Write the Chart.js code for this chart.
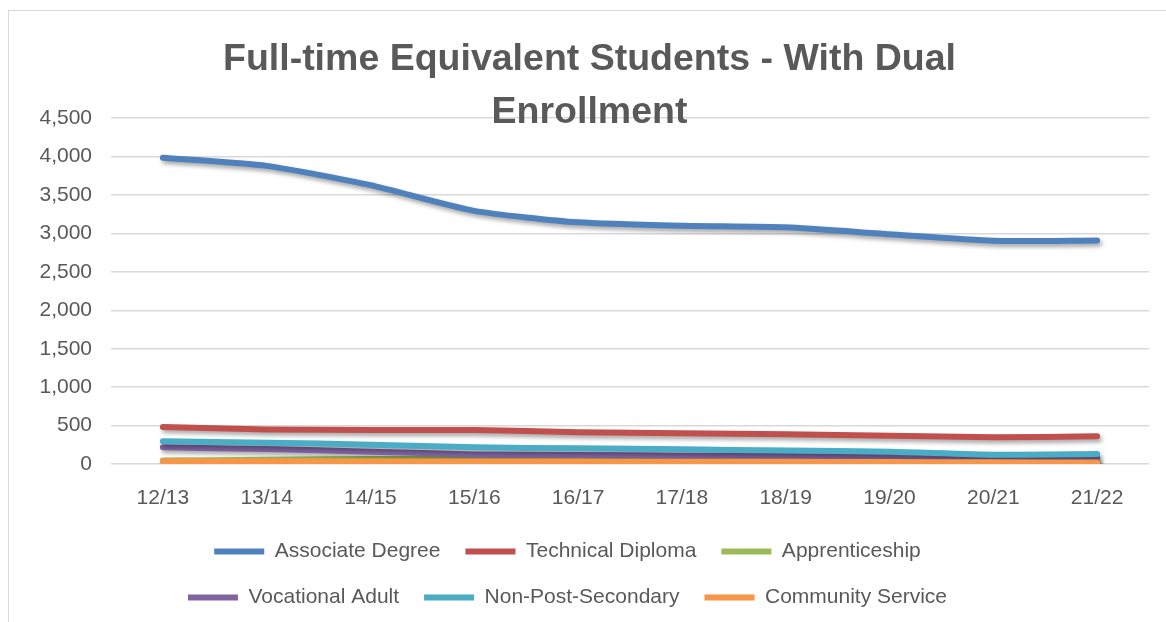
<!DOCTYPE html>
<html>
<head>
<meta charset="utf-8">
<script src="https://cdn.jsdelivr.net/npm/chart.js@4"></script>
<style>
  html, body { margin: 0; padding: 0; background: #fff; overflow: hidden; }
  #frame { position: absolute; left: 8px; top: 10px; width: 1180px; height: 640px; border: 1px solid #d9d9d9; }
  #chart { position: absolute; left: 0; top: 0; }
</style>
</head>
<body>
<div id="frame"></div>
<canvas id="chart" width="1166" height="622"></canvas>
<script>
const years = ['12/13', '13/14', '14/15', '15/16', '16/17', '17/18', '18/19', '19/20', '20/21', '21/22'];

const associateDegree = [3985, 3880, 3630, 3295, 3145, 3100, 3080, 2990, 2905, 2910];
const technicalDiploma = [480, 450, 443, 443, 413, 400, 387, 369, 347, 360];
const apprenticeship = [45, 55, 65, 65, 60, 58, 55, 50, 45, 40];
const vocationalAdult = [217, 195, 161, 125, 117, 109, 104, 100, 83, 78];
const nonPostSecondary = [295, 278, 252, 217, 204, 191, 175, 161, 122, 130];
const communityService = [35, 35, 33, 31, 31, 30, 28, 25, 22, 20];

const seriesNames = ['Associate Degree', 'Technical Diploma', 'Apprenticeship', 'Vocational Adult', 'Non-Post-Secondary', 'Community Service'];
const seriesValues = [associateDegree, technicalDiploma, apprenticeship, vocationalAdult, nonPostSecondary, communityService];
const seriesColors = ['#4F81BD', '#C0504D', '#9BBB59', '#8064A2', '#4BACC6', '#F79646'];

const FONT = "'Liberation Sans', Arial, sans-serif";
const TEXT = '#595959';

// soft drop shadow under the lines, like the office chart
const lineShadow = {
  id: 'lineShadow',
  beforeDatasetsDraw(chart) {
    const ctx = chart.ctx;
    ctx.save();
    ctx.shadowColor = 'rgba(0, 0, 0, 0.35)';
    ctx.shadowBlur = 4;
    ctx.shadowOffsetX = 2;
    ctx.shadowOffsetY = 3;
  },
  afterDatasetsDraw(chart) {
    chart.ctx.restore();
  }
};

// legend wraps after three items (two rows), and sits a bit left of the title
const legendRows = {
  id: 'legendRows',
  beforeLayout(chart) {
    const legend = chart.legend;
    if (legend && !legend._rowPatch) {
      const update = legend.update.bind(legend);
      legend.update = (w, h, m) => update(Math.min(w, 900), h, m);
      legend._rowPatch = true;
    }
  },
  afterLayout(chart) {
    const legend = chart.legend;
    if (legend) {
      legend.left -= 22;
      legend.right -= 22;
    }
  }
};

const datasets = seriesNames.map((name, i) => ({
  label: name,
  data: seriesValues[i],
  borderColor: seriesColors[i],
  backgroundColor: seriesColors[i],
  borderWidth: 6,
  borderCapStyle: 'round',
  borderJoinStyle: 'round',
  pointRadius: 0,
  pointStyle: 'line',
  tension: 0.2,
  fill: false,
  order: -i
}));

new Chart(document.getElementById('chart'), {
  type: 'line',
  data: { labels: years, datasets: datasets },
  plugins: [lineShadow, legendRows],
  options: {
    responsive: false,
    devicePixelRatio: 1,
    animation: false,
    layout: { padding: { left: 30, right: 17, top: 0, bottom: 4 } },
    plugins: {
      title: {
        display: true,
        text: ['Full-time Equivalent Students - With Dual', 'Enrollment'],
        color: TEXT,
        font: { family: FONT, size: 37.5, weight: 'bold', lineHeight: 1.39 },
        padding: { top: 34, bottom: -20 }
      },
      legend: {
        position: 'bottom',
        labels: {
          usePointStyle: true,
          pointStyleWidth: 50,
          color: TEXT,
          font: { family: FONT, size: 21 },
          padding: 25,
          sort: (a, b) => a.datasetIndex - b.datasetIndex
        }
      },
      tooltip: { enabled: false }
    },
    scales: {
      x: {
        offset: true,
        grid: { display: false, drawTicks: false },
        border: { display: false },
        ticks: { color: TEXT, font: { family: FONT, size: 21 }, padding: 22 },
        afterFit: (scale) => { scale.height = 52; }
      },
      y: {
        min: 0,
        max: 4500,
        ticks: { stepSize: 500, color: TEXT, font: { family: FONT, size: 21 }, padding: 19 },
        grid: { color: '#d9d9d9', lineWidth: 1.5, drawTicks: false },
        border: { display: false },
        afterFit: (scale) => { scale.width = 81; }
      }
    }
  }
});
</script>
</body>
</html>
